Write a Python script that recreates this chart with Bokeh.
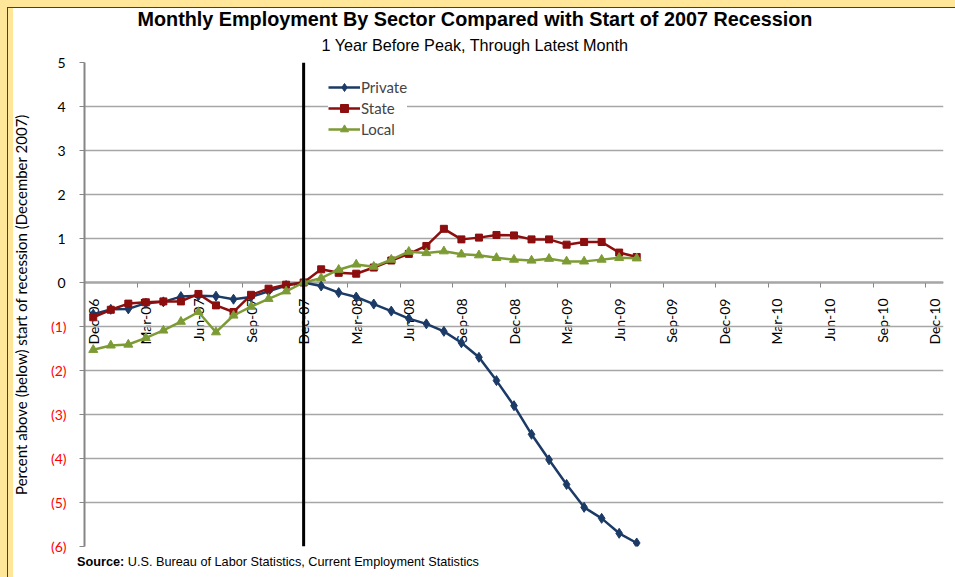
import math
from bokeh.plotting import figure
from bokeh.models import (Range1d, FixedTicker, LinearAxis, Span, Legend, LegendItem,
                          Title, Div)
from bokeh.layouts import column
from bokeh.embed import file_html
from bokeh.resources import INLINE

# ---------------- data ----------------
months = ["Dec-06", "Jan-07", "Feb-07", "Mar-07", "Apr-07", "May-07", "Jun-07", "Jul-07",
          "Aug-07", "Sep-07", "Oct-07", "Nov-07", "Dec-07", "Jan-08", "Feb-08", "Mar-08",
          "Apr-08", "May-08", "Jun-08", "Jul-08", "Aug-08", "Sep-08", "Oct-08", "Nov-08",
          "Dec-08", "Jan-09", "Feb-09", "Mar-09", "Apr-09", "May-09", "Jun-09", "Jul-09",
          "Aug-09", "Sep-09", "Oct-09", "Nov-09", "Dec-09", "Jan-10", "Feb-10", "Mar-10",
          "Apr-10", "May-10", "Jun-10", "Jul-10", "Aug-10", "Sep-10", "Oct-10", "Nov-10",
          "Dec-10"]
x_tick_labels = ["Dec-06", "Mar-07", "Jun-07", "Sep-07", "Dec-07", "Mar-08", "Jun-08",
                 "Sep-08", "Dec-08", "Mar-09", "Jun-09", "Sep-09", "Dec-09", "Mar-10",
                 "Jun-10", "Sep-10", "Dec-10"]
data_months = months[:32]
private = [-0.72, -0.61, -0.60, -0.47, -0.44, -0.32, -0.30, -0.31, -0.38, -0.33, -0.20, -0.07,
           0.00, -0.08, -0.23, -0.33, -0.49, -0.65, -0.82, -0.94, -1.11, -1.37, -1.70, -2.23,
           -2.80, -3.45, -4.03, -4.59, -5.11, -5.36, -5.70, -5.92]
state = [-0.79, -0.62, -0.48, -0.45, -0.43, -0.43, -0.26, -0.52, -0.67, -0.28, -0.14, -0.05,
         0.00, 0.30, 0.22, 0.20, 0.34, 0.50, 0.65, 0.83, 1.22, 0.98, 1.02, 1.08,
         1.07, 0.98, 0.98, 0.86, 0.92, 0.92, 0.68, 0.58]
local = [-1.53, -1.43, -1.41, -1.26, -1.09, -0.89, -0.67, -1.13, -0.75, -0.55, -0.37, -0.20,
         0.00, 0.10, 0.29, 0.41, 0.36, 0.52, 0.70, 0.67, 0.71, 0.64, 0.62, 0.56,
         0.52, 0.50, 0.54, 0.48, 0.48, 0.52, 0.56, 0.55]
recession_start = "Dec-07"
y_pos_ticks = [0, 1, 2, 3, 4, 5]
y_neg_ticks = [-6, -5, -4, -3, -2, -1]
y_neg_labels = ["(6)", "(5)", "(4)", "(3)", "(2)", "(1)"]

title = "Monthly Employment By Sector Compared with Start of 2007 Recession"
subtitle = "1 Year Before Peak, Through Latest Month"
y_title = "Percent above (below) start of recession (December 2007)"
source_label = "Source:"
source_text = "U.S. Bureau of Labor Statistics, Current Employment Statistics"

# ---------------- positions (category slots) ----------------
slot = {m: i for i, m in enumerate(months)}
xc = [slot[m] + 0.5 for m in data_months]

FONT = "Lato"
GRID = "#A6A6A6"
AXIS = "#868686"
C_PRIV = "#1B3A66"
C_STATE = "#8C0E0E"
C_LOCAL = "#7D9B35"
YELLOW = "#FFE699"
BAND = f"linear-gradient(to right, {YELLOW} 0px, {YELLOW} 5px, #FFFFFF 5px)"

p = figure(width=947, height=546, x_range=Range1d(0, len(months)), y_range=Range1d(-6, 5),
           output_backend="svg", toolbar_location=None, x_axis_location=None,
           min_border_left=74, min_border_right=12, min_border_top=54, min_border_bottom=8,
           background_fill_color="white", border_fill_alpha=0.0)
p.styles = {"background": BAND}
p.outline_line_color = None
p.title.visible = False

# inner y axis: black labels 0..5, tick marks at every integer
p.yaxis.ticker = FixedTicker(ticks=y_pos_ticks, minor_ticks=y_neg_ticks)
p.yaxis.axis_line_color = AXIS
p.yaxis.axis_line_width = 2
p.yaxis.major_tick_line_color = AXIS
p.yaxis.major_tick_out = 5
p.yaxis.major_tick_in = 0
p.yaxis.minor_tick_line_color = AXIS
p.yaxis.minor_tick_out = 5
p.yaxis.minor_tick_in = 0
p.yaxis.major_label_standoff = 14
p.yaxis.major_label_text_font = FONT
p.yaxis.major_label_text_font_size = "14px"
p.yaxis.major_label_text_color = "black"

# outer y axis: red negative labels (pulled back over the inner axis) + axis title
ax_neg = LinearAxis(ticker=FixedTicker(ticks=y_neg_ticks),
                    axis_line_color=None, major_tick_line_color=None,
                    minor_tick_line_color=None, major_tick_out=0, major_tick_in=0,
                    major_label_overrides=dict(zip(y_neg_ticks, y_neg_labels)),
                    major_label_standoff=-12, major_label_text_font=FONT,
                    major_label_text_font_size="14px", major_label_text_color="#FF0000",
                    axis_label=y_title, axis_label_text_font=FONT,
                    axis_label_text_font_style="normal", axis_label_text_font_size="15px",
                    axis_label_text_color="black", axis_label_standoff=18)
p.add_layout(ax_neg, "left")

# grid
p.xgrid.visible = False
p.ygrid.ticker = FixedTicker(ticks=y_neg_ticks + y_pos_ticks)
p.ygrid.grid_line_color = GRID
p.ygrid.grid_line_width = 1.5

# x axis at y = 0 : labels at slot centres, tick marks at slot boundaries
ax_x = LinearAxis(ticker=FixedTicker(ticks=[slot[m] + 0.5 for m in x_tick_labels],
                                     minor_ticks=[slot[m] for m in x_tick_labels]),
                  fixed_location=0, axis_line_color=AXIS, axis_line_width=2,
                  major_tick_line_color=None, major_tick_out=0, major_tick_in=0,
                  minor_tick_line_color=AXIS, minor_tick_out=5, minor_tick_in=0,
                  major_label_overrides={slot[m] + 0.5: m for m in x_tick_labels},
                  major_label_orientation=math.pi / 2, major_label_standoff=11,
                  major_label_text_font=FONT, major_label_text_font_size="14px",
                  major_label_text_color="black", level="underlay")
p.add_layout(ax_x, "below")

# recession start line
p.add_layout(Span(location=slot[recession_start] + 0.5, dimension="height",
                  line_color="black", line_width=3))

# series
r1 = p.line(xc, private, line_color=C_PRIV, line_width=2.5)
m1 = p.scatter(xc, private, marker="diamond", size=10, color=C_PRIV)
r2 = p.line(xc, state, line_color=C_STATE, line_width=2.5)
m2 = p.scatter(xc, state, marker="square", size=7, color=C_STATE)
r3 = p.line(xc, local, line_color=C_LOCAL, line_width=2.5)
m3 = p.scatter(xc, local, marker="triangle", size=9, color=C_LOCAL)

legend = Legend(items=[LegendItem(label="Private", renderers=[r1, m1]),
                       LegendItem(label="State", renderers=[r2, m2]),
                       LegendItem(label="Local", renderers=[r3, m3])],
                location=(244, 407), margin=0, padding=5, spacing=1,
                glyph_width=32, glyph_height=20, label_standoff=1,
                label_text_font=FONT, label_text_font_size="15px",
                border_line_color=None, background_fill_color="white",
                background_fill_alpha=1.0)
p.add_layout(legend)

# titles (subtitle first: it sits nearest the plot)
p.add_layout(Title(text=subtitle, align="left", offset=237, text_font="Liberation Sans",
                   text_font_style="normal", text_font_size="16.2px", text_color="black",
                   standoff=17), "above")
p.add_layout(Title(text=title, align="left", offset=53, text_font="Liberation Sans",
                   text_font_style="bold", text_font_size="19.8px", text_color="black",
                   standoff=-8), "above")

source = Div(text=(f'<div style="font-family:\'Liberation Sans\';font-size:12.7px;'
                   f'line-height:12px;padding:0 0 0 69px;color:#000"><b>{source_label}</b> '
                   f'{source_text}</div>'),
             width=947, height=23, margin=0, styles={"background": BAND})

inner = column(p, source, spacing=0,
               styles={"background-color": "#FFFFFF", "border-top": "1px solid #404040",
                       "border-left": "1px solid #404040"})
outer = column(inner, styles={"background-color": YELLOW, "padding-top": "7px",
                              "padding-left": "7px"})

open("out.html", "w").write(file_html(outer, INLINE))
